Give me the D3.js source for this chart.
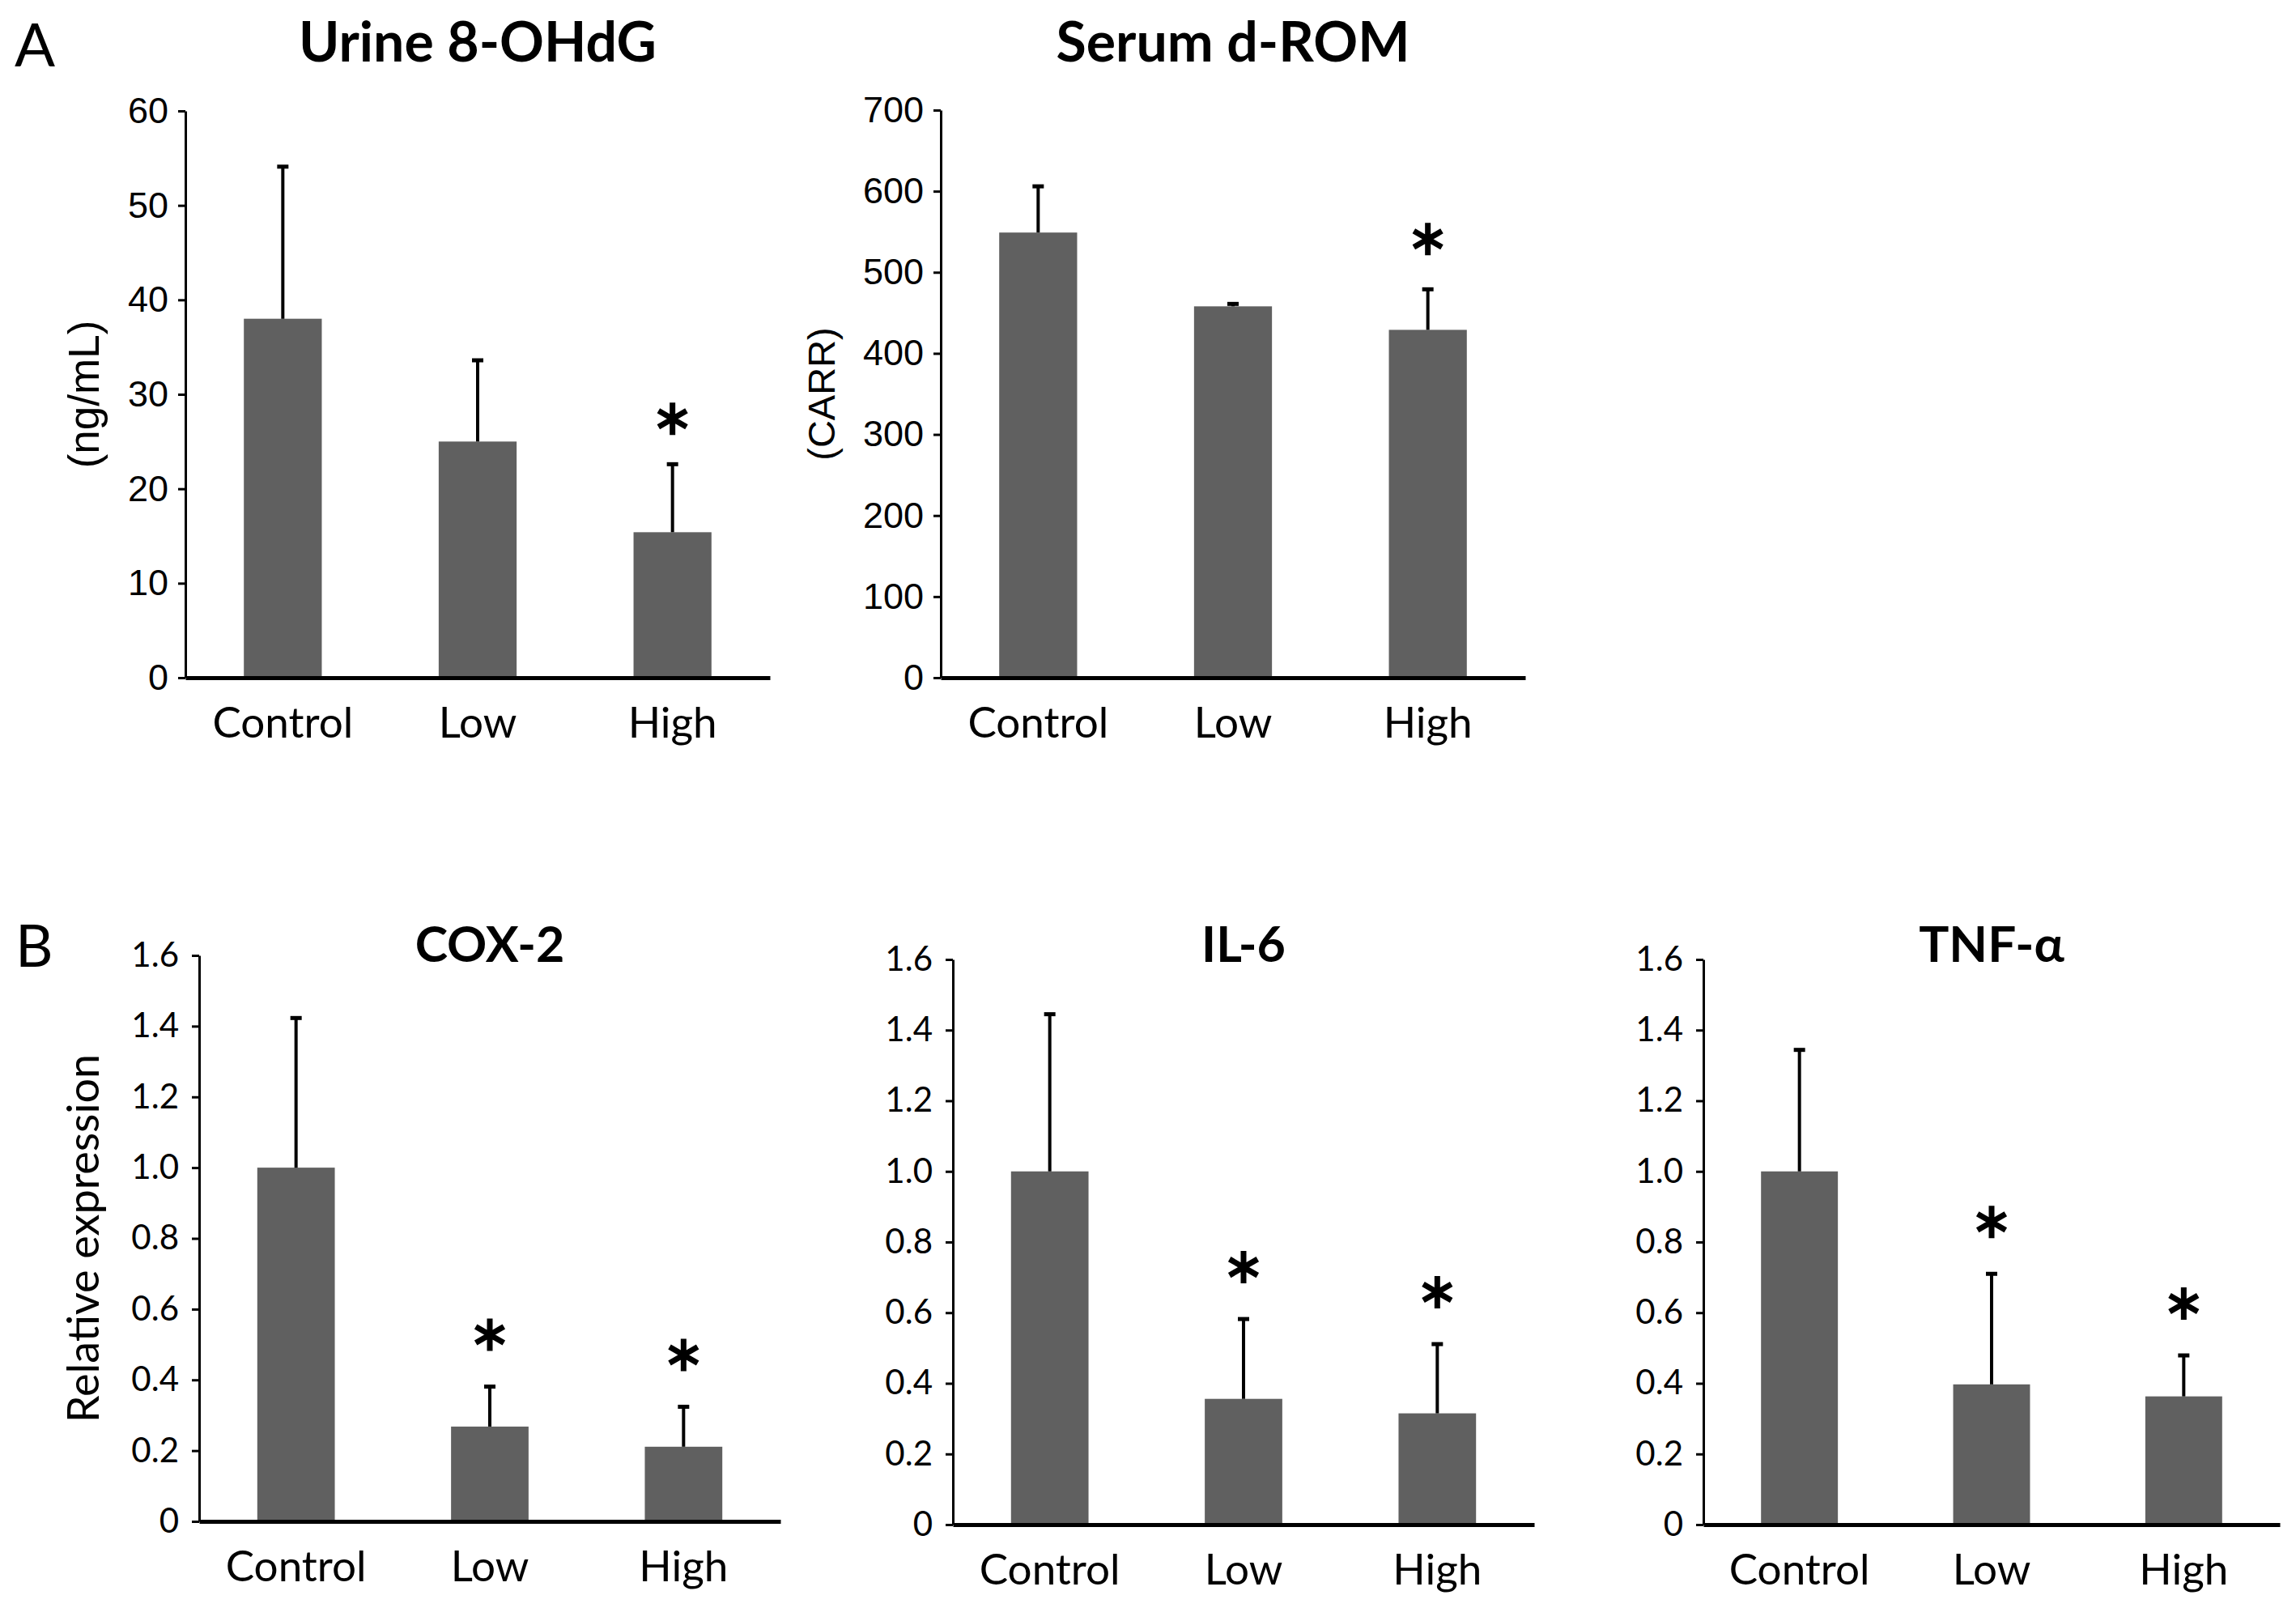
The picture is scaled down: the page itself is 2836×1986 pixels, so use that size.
<!DOCTYPE html>
<html>
<head>
<meta charset="utf-8">
<script src="https://cdn.jsdelivr.net/npm/d3@7"></script>
<style>
  body { margin: 0; background: #fff; }
  svg { display: block; }
</style>
</head>
<body>
<svg id="fig"></svg>
<script>
// groups on the x axis
var categories = ["Control", "Low", "High"];

// panel A values (mean, upper SD)
var urineMean = [38.0, 25.0, 15.4];
var urineSD = [16.1, 8.6, 7.2];
var urineSig = [false, false, true];
var dromMean = [549, 458, 429];
var dromSD = [57, 3, 50];
var dromSig = [false, false, true];

// panel B values, relative expression
var cox2Mean = [1.0, 0.268, 0.211];
var cox2SD = [0.423, 0.113, 0.113];
var cox2Sig = [false, true, true];
var il6Mean = [1.0, 0.356, 0.315];
var il6SD = [0.445, 0.226, 0.196];
var il6Sig = [false, true, true];
var tnfMean = [1.0, 0.397, 0.363];
var tnfSD = [0.344, 0.313, 0.116];
var tnfSig = [false, true, true];

// tick labels
var urineTicks = [0, 10, 20, 30, 40, 50, 60];
var dromTicks = [0, 100, 200, 300, 400, 500, 600, 700];
var exprTicks = [0, 0.2, 0.4, 0.6, 0.8, 1.0, 1.2, 1.4, 1.6];

var arial = "'Liberation Sans', Arial, sans-serif";
var calibri = "Lato, 'Open Sans', sans-serif";

var svg = d3.select("#fig")
  .attr("width", 2836)
  .attr("height", 1986);

svg.append("rect").attr("width", 2836).attr("height", 1986).attr("fill", "#fff");

var exprFormat = function (d) { return d === 0 ? "0" : d.toFixed(1); };

var panels = [
  { x0: 229, y0: 837, top: 137, W: 722, mean: urineMean, sd: urineSD, sig: urineSig, starGap: 56,
    ticks: urineTicks, fmt: d3.format("d"), tickFont: arial, tickSize: 45, tickGap: 12,
    title: "Urine 8-OHdG", titleSize: 68, titleY: 76,
    ylabel: "(ng/mL)", ylabelFont: arial, ylabelSize: 53, ylabelDx: -126 },
  { x0: 1162, y0: 837, top: 136, W: 722, mean: dromMean, sd: dromSD, sig: dromSig, starGap: 62,
    ticks: dromTicks, fmt: d3.format("d"), tickFont: arial, tickSize: 45, tickGap: 12,
    title: "Serum d-ROM", titleSize: 68, titleY: 76,
    ylabel: "(CARR)", ylabelFont: arial, ylabelSize: 47, ylabelDx: -148 },
  { x0: 246, y0: 1879, top: 1180, W: 718, mean: cox2Mean, sd: cox2SD, sig: cox2Sig, starGap: 64,
    ticks: exprTicks, fmt: exprFormat, tickFont: calibri, tickSize: 42, tickGap: 16,
    title: "COX-2", titleSize: 61, titleY: 1188,
    ylabel: "Relative expression", ylabelFont: calibri, ylabelSize: 54, ylabelDx: -145 },
  { x0: 1177, y0: 1883, top: 1185, W: 718, mean: il6Mean, sd: il6SD, sig: il6Sig, starGap: 64,
    ticks: exprTicks, fmt: exprFormat, tickFont: calibri, tickSize: 42, tickGap: 16,
    title: "IL-6", titleSize: 61, titleY: 1188 },
  { x0: 2104, y0: 1883, top: 1185, W: 712, mean: tnfMean, sd: tnfSD, sig: tnfSig, starGap: 64,
    ticks: exprTicks, fmt: exprFormat, tickFont: calibri, tickSize: 42, tickGap: 16,
    title: "TNF-\u03b1", titleSize: 62, titleY: 1188 }
];

var star = d3.symbol().type(d3.symbolAsterisk).size(1130);

panels.forEach(function (p) {
  var g = svg.append("g").attr("transform", "translate(" + p.x0 + ",0)");

  var x = d3.scaleBand()
    .domain(categories)
    .range([0, p.W])
    .paddingInner(0.6)
    .paddingOuter(0.3);

  var y = d3.scaleLinear()
    .domain([0, d3.max(p.ticks)])
    .range([p.y0, p.top]);

  var rows = categories.map(function (c, i) {
    return { cat: c, mean: p.mean[i], sd: p.sd[i], sig: p.sig[i] };
  });

  // bars
  g.selectAll(".bar")
    .data(rows)
    .enter()
    .append("rect")
    .attr("class", "bar")
    .attr("x", function (d) { return x(d.cat); })
    .attr("width", x.bandwidth())
    .attr("y", function (d) { return y(d.mean); })
    .attr("height", function (d) { return y(0) - y(d.mean); })
    .attr("fill", "#606060");

  // upper error bars
  var cx = function (d) { return x(d.cat) + x.bandwidth() / 2; };
  g.selectAll(".err")
    .data(rows)
    .enter()
    .append("line")
    .attr("x1", cx).attr("x2", cx)
    .attr("y1", function (d) { return y(d.mean); })
    .attr("y2", function (d) { return y(d.mean + d.sd); })
    .attr("stroke", "#000")
    .attr("stroke-width", 4);
  g.selectAll(".cap")
    .data(rows)
    .enter()
    .append("line")
    .attr("x1", function (d) { return cx(d) - 7; })
    .attr("x2", function (d) { return cx(d) + 7; })
    .attr("y1", function (d) { return y(d.mean + d.sd); })
    .attr("y2", function (d) { return y(d.mean + d.sd); })
    .attr("stroke", "#000")
    .attr("stroke-width", 5);

  // significance stars
  g.selectAll(".star")
    .data(rows.filter(function (d) { return d.sig; }))
    .enter()
    .append("path")
    .attr("d", star)
    .attr("transform", function (d) {
      return "translate(" + cx(d) + "," + (y(d.mean + d.sd) - p.starGap) + ")";
    })
    .attr("fill", "none")
    .attr("stroke", "#000")
    .attr("stroke-width", 7);

  // y axis
  var ya = g.append("g")
    .call(d3.axisLeft(y).tickValues(p.ticks).tickFormat(p.fmt).tickSize(9).tickSizeOuter(0).tickPadding(p.tickGap));
  ya.select(".domain").attr("stroke", "#000").attr("stroke-width", 3);
  ya.selectAll(".tick line").attr("stroke", "#000").attr("stroke-width", 3);
  ya.selectAll(".tick text")
    .attr("font-family", p.tickFont)
    .attr("font-size", p.tickSize)
    .attr("fill", "#000");

  // x axis
  var xa = g.append("g")
    .attr("transform", "translate(0," + p.y0 + ")")
    .call(d3.axisBottom(x).tickSize(0).tickSizeOuter(0));
  xa.select(".domain").attr("stroke", "#000").attr("stroke-width", 5);
  xa.selectAll(".tick text")
    .attr("y", 74)
    .attr("dy", null)
    .attr("font-family", calibri)
    .attr("font-size", 53)
    .attr("fill", "#000");

  // title
  g.append("text")
    .attr("x", p.W / 2)
    .attr("y", p.titleY)
    .attr("text-anchor", "middle")
    .attr("font-family", calibri)
    .attr("font-weight", "bold")
    .attr("font-size", p.titleSize)
    .text(p.title);

  if (p.ylabel) {
    g.append("text")
      .attr("transform", "translate(" + p.ylabelDx + "," + ((p.y0 + p.top) / 2) + ") rotate(-90)")
      .attr("text-anchor", "middle")
      .attr("dominant-baseline", "central")
      .attr("font-family", p.ylabelFont)
      .attr("font-size", p.ylabelSize)
      .text(p.ylabel);
  }
});

// panel letters
svg.append("text")
  .attr("x", 18).attr("y", 82)
  .attr("font-family", calibri)
  .attr("font-size", 74)
  .text("A");
svg.append("text")
  .attr("x", 19).attr("y", 1194)
  .attr("font-family", calibri)
  .attr("font-size", 72)
  .text("B");
</script>
</body>
</html>
